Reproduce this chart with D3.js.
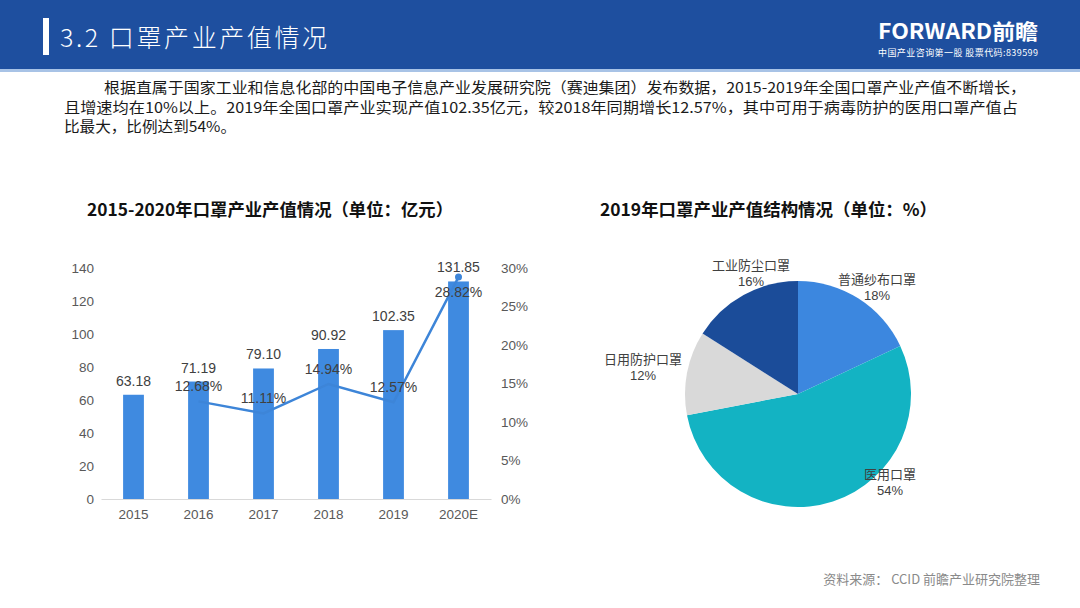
<!DOCTYPE html>
<html><head><meta charset="utf-8">
<script src="https://cdn.jsdelivr.net/npm/d3@7"></script>
<style>
body{margin:0;background:#fff;}
svg{display:block;font-family:"Liberation Sans","Noto Sans CJK SC",sans-serif;}
</style></head>
<body>
<svg id="c" width="1080" height="608"></svg>
<script>
const years = ["2015","2016","2017","2018","2019","2020E"];
const output = [63.18,71.19,79.10,90.92,102.35,131.85];
const growth = [null,12.68,11.11,14.94,12.57,28.82];
const leftTicks = [0,20,40,60,80,100,120,140];
const rightTicks = [0,5,10,15,20,25,30];
const pieNames = ["普通纱布口罩","医用口罩","日用防护口罩","工业防尘口罩"];
const pieValues = [18,54,12,16];
const pieColors = ["#3c87df","#13b3c3","#d9d9d9","#1b4c99"];
const paraLines = [
  "根据直属于国家工业和信息化部的中国电子信息产业发展研究院（赛迪集团）发布数据，2015-2019年全国口罩产业产值不断增长，",
  "且增速均在10%以上。2019年全国口罩产业实现产值102.35亿元，较2018年同期增长12.57%，其中可用于病毒防护的医用口罩产值占",
  "比最大，比例达到54%。"
];

const svg = d3.select("#c");
const cjk = '"Noto Sans CJK SC","Liberation Sans",sans-serif';

// header
svg.append("rect").attr("x",0).attr("y",0).attr("width",1080).attr("height",70).attr("fill","#1e4f9f");
svg.append("rect").attr("x",0).attr("y",69).attr("width",1080).attr("height",3).attr("fill","#a8c3e6");
svg.append("rect").attr("x",43).attr("y",18).attr("width",6).attr("height",37).attr("fill","#fff");
svg.append("text").attr("x",60).attr("y",47).attr("fill","#fff").attr("font-size",25).attr("font-weight",300)
  .attr("textLength",267).attr("lengthAdjust","spacing")
  .style("font-family",cjk).text("3.2 口罩产业产值情况");
svg.append("text").attr("x",878).attr("y",39).attr("fill","#fff").attr("font-size",21).attr("font-weight","bold")
  .attr("textLength",160).attr("lengthAdjust","spacingAndGlyphs")
  .style("font-family",cjk).text("FORWARD前瞻");
svg.append("text").attr("x",878).attr("y",56).attr("fill","#fff").attr("font-size",9)
  .attr("textLength",160).attr("lengthAdjust","spacing")
  .style("font-family",cjk).text("中国产业咨询第一股  股票代码:839599");

// paragraph
const paraLen = [922, 954, 172];
paraLines.forEach((t,i)=>{
  svg.append("text").attr("x", i===0?104:64).attr("y",93+i*19.5).attr("fill","#1a1a1a")
    .attr("font-size",15).attr("textLength",paraLen[i]).attr("lengthAdjust","spacingAndGlyphs")
    .style("font-family",cjk).text(t);
});

// bar chart
const x = d3.scaleBand().domain(years).range([101,491]).paddingInner(0.68).paddingOuter(0.34);
const y = d3.scaleLinear().domain([0,140]).range([499,268]);
const y2 = d3.scaleLinear().domain([0,30]).range([499,268]);

svg.append("text").attr("x",87).attr("y",216).attr("font-size",17)
  .attr("font-weight","bold").attr("fill","#111").style("font-family",cjk)
  .attr("textLength",366).attr("lengthAdjust","spacingAndGlyphs")
  .text("2015-2020年口罩产业产值情况（单位：亿元）");

const gl = svg.append("g").attr("transform","translate(100,0)")
  .call(d3.axisLeft(y).tickValues(leftTicks).tickSize(0).tickPadding(6));
gl.select(".domain").remove();
gl.selectAll("text").attr("font-size",13.5).attr("fill","#595959").style("font-family","Liberation Sans");

const gr = svg.append("g").attr("transform","translate(495,0)")
  .call(d3.axisRight(y2).tickValues(rightTicks).tickFormat(d=>d+"%").tickSize(0).tickPadding(6));
gr.select(".domain").remove();
gr.selectAll("text").attr("font-size",13.5).attr("fill","#595959").style("font-family","Liberation Sans");

const gx = svg.append("g").attr("transform","translate(0,499)")
  .call(d3.axisBottom(x).tickSize(0).tickPadding(10));
gx.select(".domain").attr("stroke","#d9d9d9");
gx.selectAll("text").attr("font-size",13.5).attr("fill","#595959").style("font-family","Liberation Sans");

svg.append("g").selectAll("rect").data(years).join("rect")
  .attr("x",d=>x(d)).attr("width",x.bandwidth())
  .attr("y",(d,i)=>y(output[i])).attr("height",(d,i)=>y(0)-y(output[i]))
  .attr("fill","#3f8ae0");

svg.append("g").selectAll("text").data(years).join("text")
  .attr("x",d=>x(d)+x.bandwidth()/2).attr("y",(d,i)=>y(output[i])-9)
  .attr("text-anchor","middle").attr("font-size",14).attr("fill","#404040")
  .text((d,i)=>output[i].toFixed(2));

const pts = years.map((d,i)=>({d,v:growth[i]})).filter(p=>p.v!==null);
const line = d3.line().x(p=>x(p.d)+x.bandwidth()/2).y(p=>y2(p.v));
svg.append("path").datum(pts).attr("d",line).attr("fill","none").attr("stroke","#3d85d8").attr("stroke-width",2.5);
svg.append("circle").attr("cx",x("2020E")+x.bandwidth()/2).attr("cy",y2(28.82)).attr("r",3.5).attr("fill","#3d85d8");
svg.append("g").attr("class","pct").selectAll("text").data(pts).join("text")
  .attr("x",p=>x(p.d)+x.bandwidth()/2).attr("y",p=>p.d==="2020E" ? y2(p.v)+20 : y2(p.v)-10)
  .attr("text-anchor","middle").attr("font-size",14).attr("fill","#404040")
  .text(p=>p.v.toFixed(2)+"%");

// pie
svg.append("text").attr("x",600).attr("y",216).attr("font-size",17)
  .attr("font-weight","bold").attr("fill","#111").style("font-family",cjk)
  .attr("textLength",337).attr("lengthAdjust","spacingAndGlyphs")
  .text("2019年口罩产业产值结构情况（单位：%）");

const cx=798, cy=394, r=113;
const pie = d3.pie().sort(null).value(d=>d)(pieValues);
const arc = d3.arc().innerRadius(0).outerRadius(r);
const gp = svg.append("g").attr("transform",`translate(${cx},${cy})`);
gp.selectAll("path").data(pie).join("path").attr("d",arc).attr("fill",(d,i)=>pieColors[i]);

const labelPos = [[877,284],[890,479],[643,364],[751,270]];
pieNames.forEach((n,i)=>{
  svg.append("text").attr("x",labelPos[i][0]).attr("y",labelPos[i][1]).attr("text-anchor","middle")
    .attr("font-size",13).attr("fill","#404040").style("font-family",cjk).text(n);
  svg.append("text").attr("x",labelPos[i][0]).attr("y",labelPos[i][1]+16).attr("text-anchor","middle")
    .attr("font-size",13).attr("fill","#404040").style("font-family","Liberation Sans").text(pieValues[i]+"%");
});

// footer
svg.append("text").attr("x",1040).attr("y",584).attr("text-anchor","end").attr("font-size",13).attr("fill","#8a8a8a")
  .style("font-family",cjk).text("资料来源： CCID 前瞻产业研究院整理");
</script>
</body></html>
